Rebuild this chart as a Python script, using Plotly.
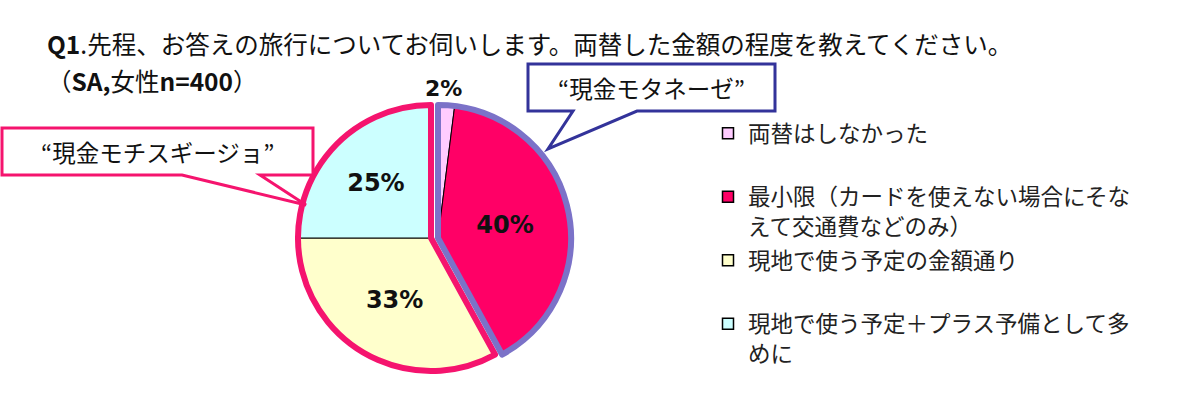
import math
import plotly.graph_objects as go

# ---------------- data ----------------
title_main = "<b>Q1</b>.先程、お答えの旅行についてお伺いします。両替した金額の程度を教えてください。"
title_sub = "（<b>SA,</b>女性<b>n=400</b>）"
categories = [
    "両替はしなかった",
    "最小限（カードを使えない場合にそなえて交通費などのみ）",
    "現地で使う予定の金額通り",
    "現地で使う予定＋プラス予備として多めに",
]
legend_names = [
    "両替はしなかった<br> ",
    "最小限（カードを使えない場合にそな<br>えて交通費などのみ）",
    "現地で使う予定の金額通り<br> ",
    "現地で使う予定＋プラス予備として多<br>めに",
]
values = [2, 40, 33, 25]
pct_labels = ["2%", "40%", "33%", "25%"]
right_group = [0, 1]   # "現金モタネーゼ"
left_group = [2, 3]    # "現金モチスギージョ"
callout_right = "“現金モタネーゼ”"
callout_left = "“現金モチスギージョ”"

# ---------------- style ----------------
W, H = 1180, 412
slice_colors = ["#FFCCFF", "#FF0066", "#FFFFCC", "#CCFFFF"]
PINK = "#F5146E"
PURPLE = "#7B72C8"
NAVY = "#33339A"
CLEAR = "rgba(0,0,0,0)"
JP = "Noto Sans CJK JP"
NUMFONT = "DejaVu Sans"


def px(x, y):
    return x / W, 1 - y / H


def dom(cx, cy, r):
    return dict(x=[(cx - r) / W, (cx + r) / W], y=[1 - (cy + r) / H, 1 - (cy - r) / H])


def path(points):
    s = ""
    for i, (x, y) in enumerate(points):
        fx, fy = px(x, y)
        s += ("M" if i == 0 else "L") + f"{fx:.5f},{fy:.5f} "
    return s + "Z"


R = 133
CL = (431, 238)
CR = (438, 238)
dom_left = dom(CL[0], CL[1], R)
dom_right = dom(CR[0], CR[1], R)
total = sum(values)
SMALL = 5  # slices below this share get their label outside

fig = go.Figure()


def data_pie(group, domain):
    idx = range(len(values))
    return go.Pie(
        values=values,
        labels=categories,
        sort=False,
        direction="clockwise",
        rotation=0,
        domain=domain,
        marker=dict(
            colors=[slice_colors[i] if i in group else CLEAR for i in idx],
            line=dict(color="#000000", width=[1 if i in group else 0 for i in idx]),
        ),
        text=[pct_labels[i] if (i in group and values[i] >= SMALL) else "" for i in idx],
        textinfo="text",
        textposition="inside",
        insidetextorientation="horizontal",
        insidetextfont=dict(family=NUMFONT, size=24, color="#111111", weight="bold"),
        showlegend=False,
        hoverinfo="skip",
    )


def outline_pie(group, domain, color):
    g_in = sum(values[i] for i in group)
    g_out = total - g_in
    first_is_group = group[0] == 0
    vals = [g_in, g_out] if first_is_group else [g_out, g_in]
    cols = [color, CLEAR] if first_is_group else [CLEAR, color]
    wid = [6, 0] if first_is_group else [0, 6]
    return go.Pie(
        values=vals,
        labels=["group_a", "group_b"],
        sort=False,
        direction="clockwise",
        rotation=0,
        domain=domain,
        marker=dict(colors=[CLEAR, CLEAR], line=dict(color=cols, width=wid)),
        textinfo="none",
        showlegend=False,
        hoverinfo="skip",
    )


fig.add_trace(data_pie(left_group, dom_left))
fig.add_trace(outline_pie(left_group, dom_left, PINK))
fig.add_trace(data_pie(right_group, dom_right))
fig.add_trace(outline_pie(right_group, dom_right, PURPLE))

# legend entries
for i, name in enumerate(legend_names):
    fig.add_trace(
        go.Scatter(
            x=[None], y=[None], mode="markers", name=name, legendgroup=f"g{i}",
            marker=dict(symbol="square", size=11, color=slice_colors[i],
                        line=dict(color="#000000", width=1.5)),
            hoverinfo="skip",
        )
    )

# outside labels for small slices, placed from the slice's own mid-angle
annotations = []
cum = 0
for i, v in enumerate(values):
    mid = (cum + v / 2) / total * 2 * math.pi
    cum += v
    if v < SMALL:
        c = CR if i in right_group else CL
        lx = c[0] + (R + 17) * math.sin(mid)
        ly = c[1] - (R + 17) * math.cos(mid)
        annotations.append(dict(text=pct_labels[i], x=px(lx - 4, 0)[0], y=px(0, ly)[1],
                                xref="paper", yref="paper", xanchor="center", yanchor="middle",
                                showarrow=False,
                                font=dict(family=NUMFONT, size=22, color="#111111", weight="bold")))

shapes = [
    dict(type="path", xref="paper", yref="paper", layer="above",
         path=path([(2, 128), (313, 128), (313, 175), (260, 175), (306, 205), (182, 175), (2, 175)]),
         fillcolor="white", line=dict(color=PINK, width=3)),
    dict(type="path", xref="paper", yref="paper", layer="above",
         path=path([(528, 64), (775, 64), (775, 111), (637, 111), (548, 149), (573, 111), (528, 111)]),
         fillcolor="white", line=dict(color=NAVY, width=3)),
]

annotations += [
    dict(text=title_sub, x=px(45, 0)[0], y=px(0, 80)[1], xref="paper", yref="paper",
         xanchor="left", yanchor="middle", showarrow=False,
         font=dict(family=JP, size=24.5, color="#111111")),
    dict(text=callout_left, x=px(157, 0)[0], y=px(0, 152)[1], xref="paper", yref="paper",
         xanchor="center", yanchor="middle", showarrow=False,
         font=dict(family=JP, size=23.5, color="#111111")),
    dict(text=callout_right, x=px(651, 0)[0], y=px(0, 88)[1], xref="paper", yref="paper",
         xanchor="center", yanchor="middle", showarrow=False,
         font=dict(family=JP, size=23.5, color="#111111")),
]

fig.update_layout(
    width=W, height=H,
    margin=dict(l=0, r=0, t=0, b=0),
    paper_bgcolor="white", plot_bgcolor="white",
    title=dict(text=title_main, x=px(47, 0)[0], xanchor="left", y=px(0, 45)[1], yanchor="middle",
               font=dict(family=JP, size=24.5, color="#111111")),
    xaxis=dict(visible=False), yaxis=dict(visible=False),
    showlegend=True,
    legend=dict(x=px(708, 0)[0], y=px(0, 112)[1], xanchor="left", yanchor="top",
                font=dict(family=JP, size=22.5, color="#222222"),
                bgcolor="rgba(0,0,0,0)", borderwidth=0, valign="top",
                tracegroupgap=2, traceorder="grouped", itemclick=False, itemdoubleclick=False),
    shapes=shapes,
    annotations=annotations,
)

fig.write_html("out.html")
